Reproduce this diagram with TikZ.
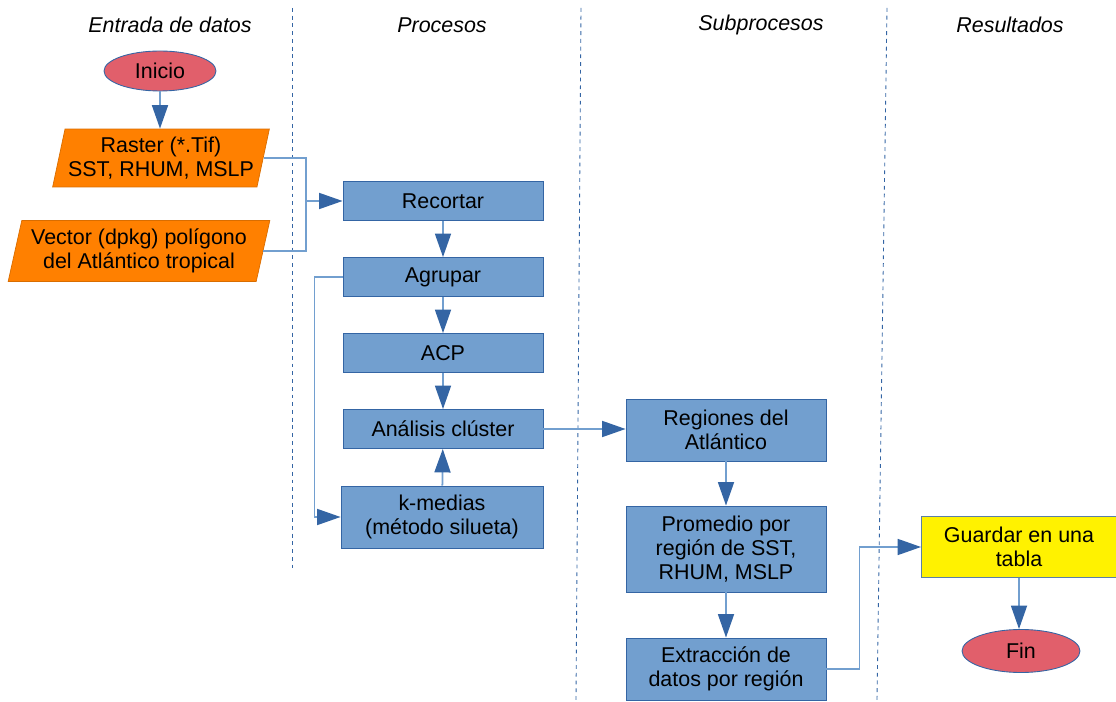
\documentclass[tikz,border=0pt]{standalone}
\usepackage{fontspec}
\setmainfont{Liberation Sans}
\usetikzlibrary{shapes.geometric,arrows.meta}
\definecolor{procblue}{HTML}{729FCF}
\definecolor{darkblue}{HTML}{3465A4}
\definecolor{inorange}{HTML}{FF8000}
\definecolor{termred}{HTML}{E15F6B}

\begin{document}
\begin{tikzpicture}[x=0.02cm, y=-0.02cm,
  every node/.style={font=\fontsize{12.2}{13.6}\selectfont, align=center},
  proc/.style={rectangle, fill=procblue, draw=darkblue, line width=0.5pt, minimum width=4cm, minimum height=0.78cm},
  io/.style={trapezium, trapezium left angle=75, trapezium right angle=105, trapezium stretches=true, fill=inorange, draw=inorange!85!black, inner sep=1pt},
  term/.style={ellipse, fill=termred, draw=darkblue, line width=0.5pt, inner sep=0pt},
  flow/.style={draw=procblue, line width=1pt},
  arr/.style={flow, -{Triangle[length=0.47cm,width=0.32cm,color=darkblue]}},
  lane/.style={darkblue, line width=0.5pt, dash pattern=on 2.2pt off 2.2pt}]

\useasboundingbox (0,0) rectangle (1116,702);

\draw[lane] (292,8) -- (292,572);
\draw[lane] (581,8) -- (576,700);
\draw[lane] (887,8) -- (877,700);

\foreach \x/\t in {170/Entrada de datos, 442/Procesos, 761/Subprocesos, 1010/Resultados}
  \node[font=\fontsize{12.2}{13.6}\selectfont\itshape] (title\x) at (\x,25) {\t};

\node[term, minimum width=2.24cm, minimum height=0.8cm] (inicio) at (160,71) {Inicio};
\node[io, minimum width=4.34cm, minimum height=1.16cm] (raster) at (161,158) {Raster (*.Tif)\\SST, RHUM, MSLP};
\node[io, minimum width=5.24cm, minimum height=1.22cm] (vector) at (139,251) {Vector (dpkg) polígono\\del Atlántico tropical};

\node[proc] (recortar) at (443,201) {Recortar};
\node[proc] (agrupar) at (443,277) {Agrupar};
\node[proc] (acp) at (443,353) {ACP};
\node[proc] (analisis) at (443,429) {Análisis clúster};
\node[proc, minimum width=4.04cm, minimum height=1.24cm] (kmedias) at (442,517) {k-medias\\(método silueta)};

\node[proc, minimum height=1.24cm] (regiones) at (726,430) {Regiones del\\Atlántico};
\node[proc, minimum height=1.72cm] (promedio) at (726,549) {Promedio por\\región de SST,\\RHUM, MSLP};
\node[proc, minimum height=1.24cm] (extraccion) at (726,669) {Extracción de\\datos por región};

\node[proc, fill=yellow, draw=procblue!80!black, minimum width=3.9cm, minimum height=1.22cm] (guardar) at (1019,547) {Guardar en una\\tabla};
\node[term, minimum width=2.36cm, minimum height=0.86cm] (fin) at (1021,651) {Fin};

\coordinate (junta) at (306,201);

\draw[arr] (inicio.south) -- (inicio.south |- raster.north);
\draw[flow] (raster.east) -| (junta) |- (vector.east);
\draw[arr] (junta) -- (recortar.west);
\draw[arr] (recortar) -- (agrupar);
\draw[arr] (agrupar) -- (acp);
\draw[arr] (acp) -- (analisis);
\draw[arr] (kmedias) -- (analisis);
\draw[arr] (agrupar.west) -- ++(-28,0) |- (kmedias.west);
\draw[arr] (analisis.east) -- (analisis.east -| regiones.west);
\draw[arr] (regiones) -- (promedio);
\draw[arr] (promedio) -- (extraccion);
\draw[arr] (extraccion.east) -- ++(33,0) |- (guardar.west);
\draw[arr] (guardar.south) -- (guardar.south |- fin.north);
\end{tikzpicture}
\end{document}
